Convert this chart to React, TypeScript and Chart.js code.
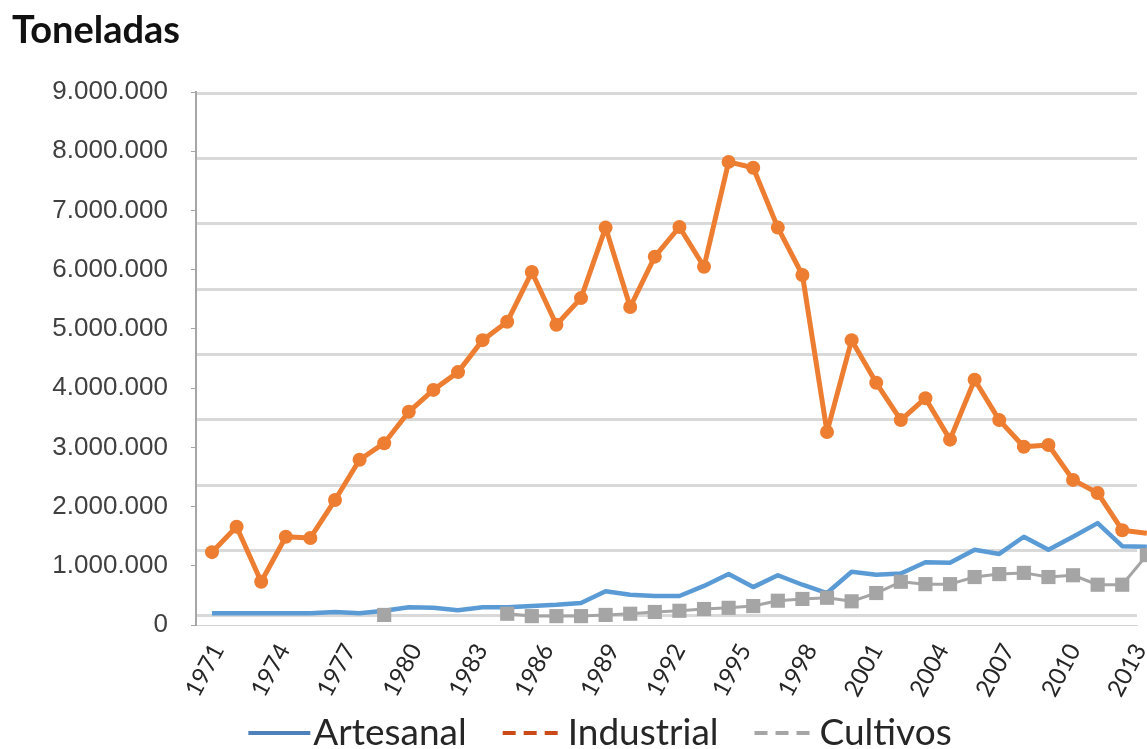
import React, { useEffect, useRef } from 'react';
import { Chart, registerables } from 'chart.js';

Chart.register(...registerables);

// ---- data (tonnes) ----
const years = [
  1971, 1972, 1973, 1974, 1975, 1976, 1977, 1978, 1979, 1980,
  1981, 1982, 1983, 1984, 1985, 1986, 1987, 1988, 1989, 1990,
  1991, 1992, 1993, 1994, 1995, 1996, 1997, 1998, 1999, 2000,
  2001, 2002, 2003, 2004, 2005, 2006, 2007, 2008, 2009,
];

const artesanal = [
  200000, 200000, 200000, 200000, 200000, 220000, 200000, 240000, 300000, 290000,
  250000, 300000, 300000, 320000, 340000, 370000, 570000, 510000, 490000, 490000,
  660000, 860000, 640000, 840000, 680000, 540000, 900000, 850000, 870000, 1060000,
  1050000, 1270000, 1200000, 1490000, 1270000, 1490000, 1720000, 1330000, 1320000,
];

const industrial = [
  1230000, 1660000, 730000, 1490000, 1470000, 2110000, 2790000, 3070000, 3600000, 3970000,
  4270000, 4810000, 5120000, 5960000, 5070000, 5520000, 6710000, 5370000, 6220000, 6720000,
  6050000, 7820000, 7720000, 6710000, 5910000, 3260000, 4810000, 4090000, 3460000, 3830000,
  3130000, 4140000, 3460000, 3010000, 3040000, 2450000, 2230000, 1600000, 1550000,
];

const cultivos = [
  null, null, null, null, null, null, null, 170000, null, null,
  null, null, 190000, 150000, 150000, 150000, 170000, 190000, 220000, 240000,
  270000, 290000, 320000, 410000, 440000, 460000, 400000, 540000, 730000, 690000,
  690000, 810000, 860000, 880000, 810000, 840000, 680000, 680000, 1180000,
];

const xTickYears = [1971, 1974, 1977, 1980, 1983, 1986, 1989, 1992, 1995, 1998, 2001, 2004, 2007, 2010, 2013];
const gridSteps = [0, 1, 2, 3, 4, 5, 6, 7, 8];

const seriesNames = ['Artesanal', 'Industrial', 'Cultivos'];
const seriesColors = ['#5B9BD5', '#ED7D31', '#A5A5A5'];
const legendColors = ['#4F81BD', '#CC4A1A', '#A5A5A5'];
const legendDashes: number[][] = [[], [13, 8], [13, 8]];

const fmt = (v: number) => String(Math.round(v)).replace(/\B(?=(\d{3})+(?!\d))/g, '.');

const toPoints = (vals: (number | null)[]) => years.map((y, i) => ({ x: y, y: vals[i] }));

const legendPlugin = {
  id: 'bottomLegend',
  afterDraw(chart: any) {
    const ctx = chart.ctx as CanvasRenderingContext2D;
    ctx.save();
    ctx.font = '37px Lato';
    const markerW = 62;
    const markerGap = 3;
    const itemGap = 36;
    const widths = seriesNames.map((n) => ctx.measureText(n).width);
    const total = widths.reduce((a, w) => a + markerW + markerGap + w, 0) + itemGap * (seriesNames.length - 1);
    let x = 600 - total / 2;
    const baseline = chart.height - 4;
    seriesNames.forEach((name, i) => {
      ctx.beginPath();
      ctx.setLineDash(legendDashes[i]);
      ctx.strokeStyle = legendColors[i];
      ctx.lineWidth = 4;
      ctx.moveTo(x, baseline - 12);
      ctx.lineTo(x + markerW, baseline - 12);
      ctx.stroke();
      ctx.setLineDash([]);
      ctx.fillStyle = '#262626';
      ctx.textBaseline = 'alphabetic';
      ctx.textAlign = 'left';
      ctx.fillText(name, x + markerW + markerGap, baseline);
      x += markerW + markerGap + widths[i] + itemGap;
    });
    ctx.restore();
  },
};

export default function App() {
  const canvasRef = useRef<HTMLCanvasElement | null>(null);

  useEffect(() => {
    const canvas = canvasRef.current;
    if (!canvas) return;
    const chart = new Chart(canvas, {
      type: 'line',
      data: {
        datasets: [
          {
            label: seriesNames[0],
            data: toPoints(artesanal),
            borderColor: seriesColors[0],
            backgroundColor: seriesColors[0],
            borderWidth: 4.5,
            borderJoinStyle: 'round',
            pointRadius: 0,
            clip: false,
            order: 2,
          },
          {
            label: seriesNames[1],
            data: toPoints(industrial),
            borderColor: seriesColors[1],
            backgroundColor: seriesColors[1],
            borderWidth: 5,
            borderJoinStyle: 'round',
            pointRadius: 7,
            pointBorderWidth: 0,
            pointBackgroundColor: seriesColors[1],
            clip: false,
            order: 0,
          },
          {
            label: seriesNames[2],
            data: toPoints(cultivos),
            borderColor: seriesColors[2],
            backgroundColor: seriesColors[2],
            borderWidth: 3,
            borderJoinStyle: 'round',
            pointStyle: 'rect',
            pointRadius: 10,
            pointBorderWidth: 0,
            pointBackgroundColor: seriesColors[2],
            spanGaps: false,
            clip: false,
            order: 1,
          },
        ],
      },
      options: {
        responsive: false,
        animation: false,
        devicePixelRatio: 1,
        layout: { padding: { left: 12, right: 0, top: 0, bottom: 0 } },
        plugins: {
          legend: { display: false },
          tooltip: { enabled: false },
          title: {
            display: true,
            text: 'Toneladas',
            align: 'start',
            color: '#111111',
            font: { family: 'Lato', size: 38, weight: 'bold', lineHeight: 1.2 },
            padding: { top: 8, bottom: 38.4 },
          },
        },
        scales: {
          x: {
            type: 'linear',
            position: 'bottom',
            min: 1970.35,
            max: 2008.6,
            afterFit: (axis: any) => {
              axis.height = 0;
              axis.paddingLeft = 0;
              axis.paddingRight = 0;
            },
            ticks: { display: false },
            grid: { display: false, drawOnChartArea: false, drawTicks: false },
            border: { display: false },
          },
          xt: {
            type: 'linear',
            position: 'bottom',
            min: 1970.0,
            max: 2012.85,
            afterBuildTicks: (axis: any) => {
              axis.ticks = xTickYears.map((v) => ({ value: v }));
            },
            afterFit: (axis: any) => {
              axis.height = 124;
              axis.paddingLeft = 0;
              axis.paddingRight = 0;
            },
            grid: { drawOnChartArea: false, drawTicks: false },
            border: { display: true, color: '#d4d4d4', width: 1 },
            ticks: {
              autoSkip: false,
              minRotation: 62,
              maxRotation: 62,
              padding: 14,
              color: '#262626',
              font: { family: 'Lato', size: 24 },
              callback: (v: any) => String(v),
            },
          },
          y: {
            type: 'linear',
            position: 'left',
            min: 0,
            max: 9000000,
            afterFit: (axis: any) => {
              axis.width = 184;
            },
            ticks: {
              stepSize: 1000000,
              padding: 23,
              color: '#404040',
              font: { family: 'Liberation Sans', size: 26 },
              callback: (v: any) => fmt(Number(v)),
            },
            grid: { drawOnChartArea: false, drawTicks: true, tickLength: 5, color: '#a6a6a6' },
            border: { display: true, color: '#a6a6a6', width: 2 },
          },
          yg: {
            type: 'linear',
            position: 'left',
            min: -0.1377,
            max: 8.0153,
            afterBuildTicks: (axis: any) => {
              axis.ticks = gridSteps.map((v) => ({ value: v }));
            },
            afterFit: (axis: any) => {
              axis.width = 0;
            },
            ticks: { display: false },
            grid: { drawOnChartArea: true, drawTicks: false, color: '#d9d9d9', lineWidth: 3 },
            border: { display: false },
          },
        },
      },
      plugins: [legendPlugin],
    });
    let alive = true;
    if ((document as any).fonts && (document as any).fonts.ready) {
      (document as any).fonts.ready.then(() => {
        if (alive) chart.update();
      });
    }
    return () => {
      alive = false;
      chart.destroy();
    };
  }, []);

  return (
    <div
      style={{
        position: 'absolute',
        left: 0,
        top: 0,
        width: 1147,
        height: 749,
        overflow: 'hidden',
        background: '#ffffff',
      }}
    >
      <canvas ref={canvasRef} width={1147} height={749} style={{ display: 'block' }} />
    </div>
  );
}
